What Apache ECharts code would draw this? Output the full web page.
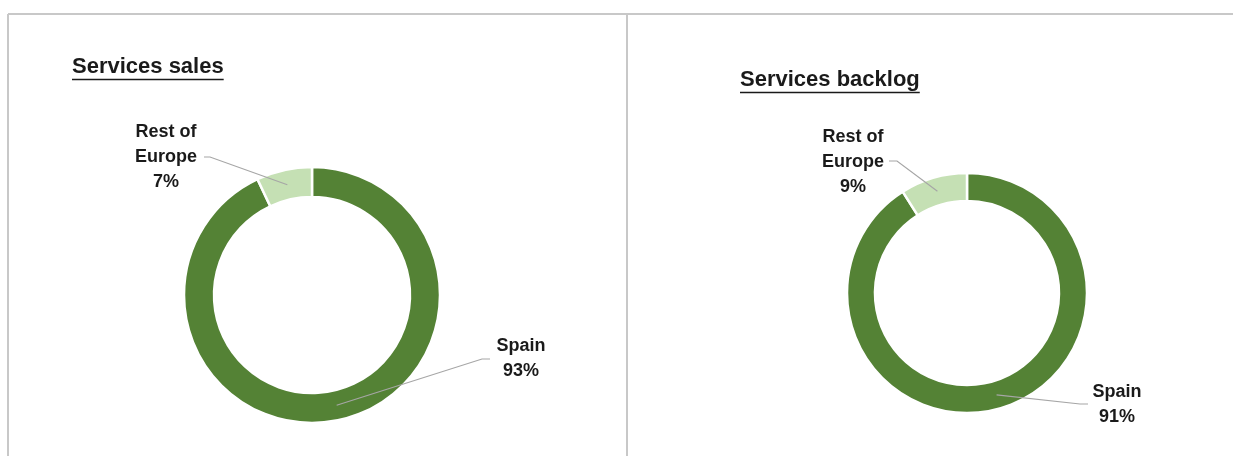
<!DOCTYPE html>
<html>
<head>
<meta charset="utf-8">
<script src="https://cdn.jsdelivr.net/npm/echarts@6/dist/echarts.min.js"></script>
<style>
html, body { margin: 0; padding: 0; background: #fff; }
#main { width: 1233px; height: 456px; }
</style>
</head>
<body>
<div id="main"></div>
<script>
// data
var regions = ['Spain', 'Rest of Europe'];
var salesShare = [93, 7];
var backlogShare = [91, 9];
var chartTitles = ['Services sales', 'Services backlog'];
var sliceColors = ['#548235', '#C5E0B4'];

var FONT = '"Liberation Sans", Arial, sans-serif';
var TEXT_COLOR = '#1a1a1a';

// layout of the two donuts (pixels), label anchors and leader line bends
var pies = [
  {
    values: salesShare,
    center: [312, 295],
    radius: [98, 128],
    title: { x: 72, y: 67, size: 22 },
    labels: [
      { x: 521, y: 359, bend: [482, 359], end: [490, 359] },
      { x: 166, y: 157, bend: [210, 157], end: [204, 157] }
    ]
  },
  {
    values: backlogShare,
    center: [967, 293],
    radius: [92, 120],
    title: { x: 740, y: 80, size: 22 },
    labels: [
      { x: 1117, y: 405, bend: [1080, 404], end: [1088, 404] },
      { x: 853, y: 162, bend: [897, 161], end: [889, 161] }
    ]
  }
];

// point in the middle of the ring at the slice's mid angle (clockwise from 12 o'clock)
function midPoint(pie, idx) {
  var total = 0, before = 0;
  pie.values.forEach(function (v, i) {
    total += v;
    if (i < idx) before += v;
  });
  var a = (before + pie.values[idx] / 2) / total * Math.PI * 2;
  var r = (pie.radius[0] + pie.radius[1]) / 2;
  return [pie.center[0] + r * Math.sin(a), pie.center[1] - r * Math.cos(a)];
}

function textWidth(str, size) {
  var ctx = document.createElement('canvas').getContext('2d');
  ctx.font = 'bold ' + size + 'px ' + FONT;
  return ctx.measureText(str).width;
}

var myChart = echarts.init(document.getElementById('main'), null, { renderer: 'canvas' });

var graphics = [
  // panel frame
  { type: 'line', shape: { x1: 8, y1: 14, x2: 1233, y2: 14 }, style: { stroke: '#c8c8c8', lineWidth: 2 } },
  { type: 'line', shape: { x1: 8, y1: 14, x2: 8, y2: 456 }, style: { stroke: '#c8c8c8', lineWidth: 2 } },
  { type: 'line', shape: { x1: 627, y1: 14, x2: 627, y2: 456 }, style: { stroke: '#c8c8c8', lineWidth: 2 } }
];

pies.forEach(function (p, i) {
  var t = p.title;
  graphics.push({
    type: 'text',
    x: t.x,
    y: t.y,
    style: {
      text: chartTitles[i],
      font: 'bold ' + t.size + 'px ' + FONT,
      fill: TEXT_COLOR,
      align: 'left',
      verticalAlign: 'middle'
    }
  });
  // underline
  var w = textWidth(chartTitles[i], t.size);
  graphics.push({
    type: 'line',
    shape: { x1: t.x, y1: t.y + 12.5, x2: t.x + w, y2: t.y + 12.5 },
    style: { stroke: TEXT_COLOR, lineWidth: 1.6 }
  });
  // leader lines, drawn over the ring like the original
  p.labels.forEach(function (l, k) {
    graphics.push({
      type: 'polyline',
      z: 100,
      shape: { points: [midPoint(p, k), l.bend, l.end] },
      style: { stroke: '#a6a6a6', lineWidth: 1.2, fill: null }
    });
  });
});

var series = pies.map(function (p) {
  return {
    type: 'pie',
    center: p.center,
    radius: p.radius,
    startAngle: 90,
    clockwise: true,
    avoidLabelOverlap: false,
    animation: false,
    silent: true,
    itemStyle: {
      borderColor: '#fff',
      borderWidth: 2.5
    },
    label: {
      show: true,
      position: 'outside',
      color: TEXT_COLOR,
      fontFamily: FONT,
      fontWeight: 'bold',
      fontSize: 18,
      lineHeight: 25,
      align: 'center',
      formatter: function (params) {
        return params.name.replace(' Europe', '\nEurope') + '\n' + params.value + '%';
      }
    },
    labelLine: { show: false },
    labelLayout: function (params) {
      var l = p.labels[params.dataIndex];
      return {
        x: l.x,
        y: l.y,
        align: 'center',
        verticalAlign: 'middle'
      };
    },
    data: regions.map(function (name, k) {
      return { name: name, value: p.values[k], itemStyle: { color: sliceColors[k] } };
    })
  };
});

var option = {
  backgroundColor: '#fff',
  graphic: graphics,
  series: series
};

myChart.setOption(option, true);
</script>
</body>
</html>
